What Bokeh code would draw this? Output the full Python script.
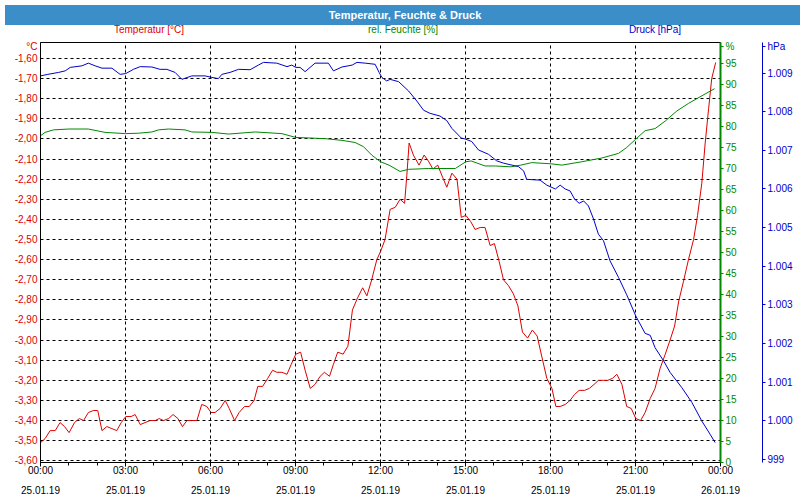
from bokeh.plotting import figure
from bokeh.models import Range1d, LinearAxis, FixedTicker, Div, Grid
from bokeh.layouts import column
from bokeh.embed import file_html
from bokeh.resources import INLINE

# ---------------- data ----------------
title_text = "Temperatur, Feuchte &amp; Druck"
series_names = ["Temperatur [°C]", "rel. Feuchte [%]", "Druck [hPa]"]
unit_names = ["°C", "%", "hPa"]

x_tick_hours = [0, 3, 6, 9, 12, 15, 18, 21, 24]
x_minor_hours = list(range(0, 25))
x_tick_times = ["00:00", "03:00", "06:00", "09:00", "12:00", "15:00", "18:00", "21:00", "00:00"]
x_tick_dates = ["25.01.19", "25.01.19", "25.01.19", "25.01.19", "25.01.19",
                "25.01.19", "25.01.19", "25.01.19", "26.01.19"]

temp_ticks = [-3.6, -3.5, -3.4, -3.3, -3.2, -3.1, -3.0, -2.9, -2.8, -2.7, -2.6,
              -2.5, -2.4, -2.3, -2.2, -2.1, -2.0, -1.9, -1.8, -1.7, -1.6]
hum_ticks = [0, 5, 10, 15, 20, 25, 30, 35, 40, 45, 50, 55, 60, 65, 70, 75, 80, 85, 90, 95]
press_ticks = [999, 1000, 1001, 1002, 1003, 1004, 1005, 1006, 1007, 1008, 1009]

temp_hours = [0.00, 0.16, 0.34, 0.52, 0.69, 0.85, 1.01, 1.20, 1.37, 1.52, 1.69, 1.87, 2.02,
              2.17, 2.34, 2.52, 2.69, 2.85, 3.01, 3.20, 3.34, 3.52, 3.69, 3.87, 4.05, 4.19,
              4.34, 4.52, 4.68, 4.85, 5.01, 5.17, 5.34, 5.52, 5.69, 5.87, 6.02, 6.16, 6.34,
              6.52, 6.66, 6.85, 7.01, 7.20, 7.37, 7.54, 7.67, 7.84, 8.02, 8.19, 8.34, 8.52,
              8.70, 8.85, 9.01, 9.18, 9.34, 9.52, 9.69, 9.87, 10.02, 10.20, 10.34, 10.49,
              10.68, 10.85, 11.01, 11.19, 11.37, 11.52, 11.69, 11.87, 12.00, 12.16, 12.34,
              12.52, 12.69, 12.85, 12.93, 13.01, 13.16, 13.36, 13.54, 13.69, 13.85, 14.02,
              14.19, 14.34, 14.52, 14.70, 14.85, 15.01, 15.18, 15.34, 15.52, 15.69, 15.87,
              16.02, 16.19, 16.34, 16.52, 16.69, 16.85, 17.01, 17.19, 17.36, 17.53, 17.69,
              17.87, 18.05, 18.19, 18.34, 18.52, 18.69, 18.85, 19.01, 19.20, 19.37, 19.54,
              19.69, 19.87, 20.02, 20.19, 20.34, 20.52, 20.69, 20.85, 21.01, 21.18, 21.34,
              21.52, 21.69, 21.87, 22.05, 22.22, 22.38, 22.52, 22.69, 22.87, 23.05, 23.19,
              23.34, 23.46, 23.58, 23.69, 23.83]
temp_values = [-3.51, -3.49, -3.45, -3.45, -3.41, -3.43, -3.46, -3.41, -3.39, -3.40, -3.36,
               -3.35, -3.35, -3.45, -3.43, -3.44, -3.45, -3.41, -3.38, -3.38, -3.37, -3.42,
               -3.41, -3.40, -3.40, -3.39, -3.40, -3.39, -3.37, -3.39, -3.43, -3.40, -3.40,
               -3.40, -3.32, -3.33, -3.36, -3.36, -3.34, -3.30, -3.34, -3.40, -3.36, -3.33,
               -3.33, -3.30, -3.23, -3.23, -3.19, -3.15, -3.16, -3.16, -3.17, -3.12, -3.07,
               -3.06, -3.15, -3.24, -3.22, -3.18, -3.16, -3.18, -3.12, -3.06, -3.07, -3.03,
               -2.85, -2.79, -2.74, -2.78, -2.70, -2.60, -2.56, -2.50, -2.35, -2.34, -2.30,
               -2.32, -2.18, -2.02, -2.08, -2.13, -2.08, -2.11, -2.15, -2.13, -2.19, -2.24,
               -2.17, -2.20, -2.39, -2.38, -2.41, -2.45, -2.44, -2.44, -2.53, -2.52, -2.61,
               -2.70, -2.73, -2.77, -2.83, -2.96, -2.99, -2.95, -2.98, -3.08, -3.19, -3.24,
               -3.33, -3.33, -3.32, -3.30, -3.27, -3.25, -3.25, -3.24, -3.22, -3.20, -3.20,
               -3.20, -3.19, -3.17, -3.22, -3.33, -3.34, -3.39, -3.40, -3.36, -3.29, -3.24,
               -3.14, -3.07, -3.00, -2.93, -2.81, -2.71, -2.60, -2.50, -2.38, -2.22, -2.02,
               -1.85, -1.70, -1.62]

hum_hours = [0.00, 0.16, 0.46, 1.00, 1.69, 2.28, 3.00, 3.45, 3.93, 4.17, 4.52, 5.10, 5.34,
             6.05, 6.64, 7.58, 8.52, 9.01, 10.05, 10.64, 11.10, 11.40, 11.69, 12.00, 12.30,
             12.69, 12.99, 13.69, 14.64, 15.01, 15.20, 15.69, 16.05, 16.60, 16.95, 17.34,
             18.05, 18.40, 19.10, 19.81, 20.40, 20.69, 21.01, 21.34, 21.69, 22.05, 22.46,
             22.87, 23.34, 23.79]
hum_values = [77.8, 78.6, 79.2, 79.4, 79.4, 78.6, 78.3, 78.4, 78.7, 79.2, 79.4, 79.2, 78.7,
              78.6, 78.2, 78.7, 78.3, 77.4, 77.1, 76.7, 76.2, 75.2, 73.2, 71.6, 70.8, 69.3,
              69.8, 70.0, 70.0, 71.6, 71.8, 70.6, 70.6, 70.4, 70.8, 71.4, 71.1, 70.8, 71.6,
              72.5, 73.6, 75.0, 77.0, 79.0, 79.5, 81.3, 83.7, 85.5, 87.3, 89.0]

press_hours = [0.00, 0.26, 0.64, 0.87, 1.05, 1.46, 1.69, 1.93, 2.17, 2.52, 2.81, 3.01, 3.28,
               3.52, 3.93, 4.22, 4.46, 4.75, 4.99, 5.34, 5.81, 6.05, 6.28, 6.40, 6.69, 6.99,
               7.40, 7.69, 7.87, 8.34, 8.70, 8.87, 9.01, 9.16, 9.34, 9.69, 10.16, 10.34, 10.64,
               11.00, 11.17, 11.46, 11.81, 11.95, 12.05, 12.22, 12.34, 12.64, 12.99, 13.28,
               13.52, 13.75, 14.10, 14.34, 14.52, 14.85, 15.01, 15.22, 15.46, 15.81, 16.10,
               16.34, 16.57, 16.87, 17.05, 17.16, 17.63, 17.87, 18.17, 18.34, 18.52, 18.69,
               18.85, 19.01, 19.17, 19.34, 19.52, 19.69, 19.87, 20.10, 20.40, 20.69, 21.01,
               21.34, 21.52, 21.69, 21.99, 22.22, 22.63, 22.99, 23.34, 23.63, 23.81]
press_values = [1008.93, 1008.97, 1009.02, 1009.06, 1009.15, 1009.19, 1009.26, 1009.19,
                1009.13, 1009.13, 1008.97, 1008.99, 1009.10, 1009.17, 1009.16, 1009.10,
                1009.10, 1009.02, 1008.84, 1008.93, 1008.93, 1008.89, 1008.86, 1008.97,
                1009.02, 1009.10, 1009.09, 1009.21, 1009.28, 1009.26, 1009.17, 1009.21,
                1009.15, 1009.15, 1009.04, 1009.26, 1009.26, 1009.06, 1009.16, 1009.21,
                1009.28, 1009.26, 1009.23, 1009.02, 1008.89, 1008.80, 1008.84, 1008.78,
                1008.54, 1008.28, 1008.04, 1007.96, 1007.89, 1007.77, 1007.57, 1007.32,
                1007.29, 1007.23, 1007.01, 1006.90, 1006.73, 1006.67, 1006.63, 1006.58,
                1006.47, 1006.25, 1006.23, 1006.10, 1006.00, 1006.10, 1006.00, 1005.95,
                1005.74, 1005.63, 1005.69, 1005.56, 1005.22, 1004.83, 1004.66, 1004.14,
                1003.71, 1003.26, 1002.71, 1002.26, 1002.21, 1001.89, 1001.55, 1001.25,
                1000.86, 1000.47, 999.99, 999.65, 999.43]

# ---------------- styling ----------------
FONT = "Liberation Sans"
RED = "#dd0000"
GREEN = "#008800"
BLUE = "#0000cc"
BAR = "#3b8ec8"

FRAME_W, FRAME_H = 680, 420
T_RANGE = (-3.6085, -1.5205)
H_RANGE = (0, 100)
P_RANGE = (998.915, 1009.795)
# unit captions sit just below the top of each axis
T_UNIT_POS, H_UNIT_POS, P_UNIT_POS = -1.54, 99.0, 1009.69

p = figure(frame_width=FRAME_W, frame_height=FRAME_H,
           x_range=Range1d(0, 24), y_range=Range1d(*T_RANGE),
           x_axis_type=None, y_axis_type=None,
           output_backend="svg", toolbar_location=None,
           min_border_left=40, min_border_right=0, min_border_top=4, min_border_bottom=30)
p.extra_y_ranges = {"hum": Range1d(*H_RANGE), "press": Range1d(*P_RANGE)}
p.outline_line_color = "black"
p.outline_line_width = 1
p.background_fill_color = "white"
p.border_fill_color = "white"

x_ticker = FixedTicker(ticks=x_tick_hours, minor_ticks=x_minor_hours)
temp_grid_ticker = FixedTicker(ticks=temp_ticks, minor_ticks=[])
temp_axis_ticker = FixedTicker(ticks=temp_ticks + [T_UNIT_POS], minor_ticks=[])
hum_ticker = FixedTicker(ticks=hum_ticks + [H_UNIT_POS], minor_ticks=[])
press_ticker = FixedTicker(ticks=press_ticks + [P_UNIT_POS], minor_ticks=[])

# grids
p.add_layout(Grid(dimension=0, ticker=x_ticker, grid_line_color="black",
                  grid_line_dash="3 3", grid_line_width=1))
p.add_layout(Grid(dimension=1, ticker=temp_grid_ticker, grid_line_color="black",
                  grid_line_dash="3 3", grid_line_width=1))

# x axis
xax = LinearAxis(ticker=x_ticker,
                 major_label_overrides={h: f"{t}\n{d}" for h, t, d in
                                        zip(x_tick_hours, x_tick_times, x_tick_dates)},
                 axis_line_color="black", major_tick_line_color="black",
                 minor_tick_line_color="black",
                 major_tick_in=0, major_tick_out=4, minor_tick_in=0, minor_tick_out=3,
                 major_label_standoff=-2, major_label_text_font=FONT,
                 major_label_text_font_size="10px", major_label_text_color="black",
                 major_label_text_line_height=1.85)
p.add_layout(xax, "below")

# left temperature axis
t_over = {t: f"{t:.2f}".replace(".", ",") for t in temp_ticks}
t_over[T_UNIT_POS] = unit_names[0]
yax = LinearAxis(ticker=temp_axis_ticker, major_label_overrides=t_over,
                 axis_line_color="black", major_tick_line_color=None,
                 major_tick_in=0, major_tick_out=0, minor_tick_line_color=None,
                 major_label_standoff=3, major_label_text_font=FONT,
                 major_label_text_font_size="10px", major_label_text_color=RED)
p.add_layout(yax, "left")

# right humidity axis
h_over = {h: str(h) for h in hum_ticks}
h_over[H_UNIT_POS] = unit_names[1]
hax = LinearAxis(y_range_name="hum", ticker=hum_ticker, major_label_overrides=h_over,
                 axis_line_color=GREEN, axis_line_width=2,
                 major_tick_line_color=GREEN, major_tick_in=0, major_tick_out=3,
                 minor_tick_line_color=None, major_label_standoff=2,
                 major_label_text_font=FONT, major_label_text_font_size="10px",
                 major_label_text_color=GREEN,
                 axis_label=" ", axis_label_standoff=9, axis_label_text_font_size="10px")
p.add_layout(hax, "right")

# right pressure axis
p_over = {v: (f"{v:,}".replace(",", ".")) for v in press_ticks}
p_over[P_UNIT_POS] = unit_names[2]
pax = LinearAxis(y_range_name="press", ticker=press_ticker, major_label_overrides=p_over,
                 axis_line_color=BLUE, major_tick_line_color=BLUE,
                 major_tick_in=0, major_tick_out=3, minor_tick_line_color=None,
                 major_label_standoff=2, major_label_text_font=FONT,
                 major_label_text_font_size="10px", major_label_text_color=BLUE)
p.add_layout(pax, "right")

# data lines
p.line(temp_hours, temp_values, line_color=RED, line_width=1)
p.line(hum_hours, hum_values, line_color=GREEN, line_width=1, y_range_name="hum")
p.line(press_hours, press_values, line_color=BLUE, line_width=1, y_range_name="press")

# header: title bar + series captions
caption_html = "".join(
    f'<span style="position:absolute;left:{cx}px;top:0;transform:translateX(-50%);'
    f'white-space:nowrap;color:{col}">{name}</span>'
    for name, cx, col in zip(series_names, [144, 398, 650], [RED, GREEN, BLUE]))
header_html = (
    f'<div style="width:800px;height:20px;line-height:20px;background:{BAR};color:white;'
    f'font-weight:bold;font-size:11px;text-align:center;font-family:{FONT}">{title_text}</div>'
    f'<div style="position:relative;width:800px;height:8px;line-height:10px;font-size:10px;'
    f'font-family:{FONT}">{caption_html}</div>')
header = Div(text=header_html, width=800, height=28)

layout = column(header, p, spacing=0)
open("out.html", "w").write(file_html(layout, INLINE))
